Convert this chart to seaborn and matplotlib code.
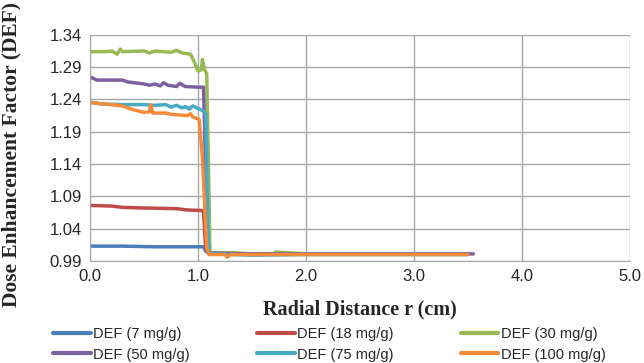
import pandas as pd
import matplotlib
matplotlib.use("Agg")
import matplotlib.pyplot as plt
import seaborn as sns

# --- data (r in cm, DEF) ---
r_7 = [0.0, 0.3, 0.6, 0.9, 1.05, 1.07, 1.10, 1.5, 2.0, 2.5, 3.0, 3.5]
def_7 = [1.013, 1.013, 1.012, 1.012, 1.012, 1.005, 1.002, 1.001, 1.001, 1.001, 1.001, 1.001]

r_18 = [0.0, 0.2, 0.3, 0.5, 0.8, 0.9, 1.05, 1.07, 1.10, 1.5, 2.0, 2.5, 3.0, 3.5]
def_18 = [1.076, 1.075, 1.073, 1.072, 1.071, 1.069, 1.068, 1.010, 1.002, 1.001, 1.001, 1.001, 1.001, 1.001]

r_30 = [0.0, 0.15, 0.2, 0.25, 0.28, 0.3, 0.5, 0.55, 0.6, 0.75, 0.8, 0.85, 0.93, 0.96, 1.0, 1.03, 1.04,
        1.06, 1.08, 1.10, 1.11, 1.3, 1.5, 1.7, 1.72, 2.0, 2.5, 3.0, 3.5]
def_30 = [1.314, 1.314, 1.315, 1.310, 1.318, 1.314, 1.315, 1.312, 1.315, 1.313, 1.316, 1.312, 1.310, 1.300,
          1.284, 1.286, 1.302, 1.286, 1.280, 1.100, 1.002, 1.003, 1.001, 1.001, 1.004, 1.001, 1.001, 1.001, 1.001]

r_50 = [0.0, 0.06, 0.3, 0.35, 0.5, 0.55, 0.6, 0.65, 0.68, 0.72, 0.8, 0.83, 0.88, 1.0, 1.05, 1.06,
        1.08, 1.10, 1.5, 2.0, 2.5, 3.0, 3.55]
def_50 = [1.275, 1.270, 1.270, 1.267, 1.264, 1.262, 1.264, 1.261, 1.266, 1.262, 1.260, 1.265, 1.260,
          1.259, 1.259, 1.200, 1.050, 1.002, 1.001, 1.001, 1.001, 1.001, 1.001]

r_75 = [0.0, 0.1, 0.3, 0.5, 0.6, 0.7, 0.75, 0.8, 0.85, 0.88, 0.92, 0.95, 1.0, 1.05, 1.07, 1.08,
        1.09, 1.10, 1.12, 1.5, 2.0, 2.5, 3.0, 3.5]
def_75 = [1.236, 1.233, 1.232, 1.232, 1.231, 1.232, 1.228, 1.231, 1.227, 1.229, 1.225, 1.230, 1.226,
          1.222, 1.218, 1.150, 1.050, 1.003, 1.001, 0.999, 1.000, 1.000, 1.000, 1.000]

r_100 = [0.0, 0.2, 0.3, 0.4, 0.5, 0.55, 0.56, 0.58, 0.7, 0.75, 0.9, 0.93, 0.95, 1.01, 1.04, 1.06,
         1.08, 1.10, 1.25, 1.27, 1.3, 1.5, 2.0, 2.5, 3.0, 3.5]
def_100 = [1.235, 1.232, 1.230, 1.224, 1.220, 1.221, 1.232, 1.219, 1.219, 1.217, 1.215, 1.218, 1.213,
           1.209, 1.150, 1.080, 1.010, 1.000, 1.000, 0.996, 1.000, 1.000, 1.000, 1.000, 1.000, 1.000]

labels = ["DEF (7 mg/g)", "DEF (18 mg/g)", "DEF (30 mg/g)",
          "DEF (50 mg/g)", "DEF (75 mg/g)", "DEF (100 mg/g)"]
colors = ["#4a7ebb", "#be4b48", "#98b954", "#7d60a0", "#46aac5", "#f38b3a"]
xs = [r_7, r_18, r_30, r_50, r_75, r_100]
ys = [def_7, def_18, def_30, def_50, def_75, def_100]

frames = []
for lab, x, y in zip(labels, xs, ys):
    frames.append(pd.DataFrame({"r": x, "DEF": y, "series": lab}))
df = pd.concat(frames, ignore_index=True)

sns.set_style("white")
plt.rcParams['font.family'] = ['Liberation Sans', 'DejaVu Sans']

fig = plt.figure(figsize=(6.44, 3.63), dpi=100)
ax = fig.add_axes([0.14, 0.281, 0.838, 0.623])

sns.lineplot(data=df, x="r", y="DEF", hue="series", palette=dict(zip(labels, colors)),
             estimator=None, sort=False, linewidth=2.5, ax=ax)

ax.set_xlim(0, 5)
ax.set_ylim(0.99, 1.34)
ax.set_xticks([0, 1, 2, 3, 4, 5])
ax.set_xticklabels(["0.0", "1.0", "2.0", "3.0", "4.0", "5.0"])
ax.set_yticks([0.99, 1.04, 1.09, 1.14, 1.19, 1.24, 1.29, 1.34])
ax.set_yticklabels(["0.99", "1.04", "1.09", "1.14", "1.19", "1.24", "1.29", "1.34"])
ax.tick_params(axis="both", labelsize=12, length=0, pad=6)
ax.grid(True, color="#a6a6a6", linewidth=1)
ax.set_axisbelow(True)
for s in ["top", "right"]:
    ax.spines[s].set_visible(False)
for s in ["left", "bottom"]:
    ax.spines[s].set_color("#a6a6a6")

ax.set_xlabel("Radial Distance r (cm)", fontsize=14.5, fontweight="bold",
              family="Liberation Serif", labelpad=11)
ax.set_ylabel("Dose Enhancement Factor (DEF)", fontsize=15.5, fontweight="bold",
              family="Liberation Serif", labelpad=8)
ax.yaxis.set_label_coords(-0.128, 0.47)

# legend filled row by row, like the reference
handles, labs = ax.get_legend_handles_labels()
ax.get_legend().remove()
order = [0, 3, 1, 4, 2, 5]
for h in handles:
    h.set_linewidth(3)
fig.legend([handles[i] for i in order], [labs[i] for i in order],
           loc="upper left", bbox_to_anchor=(53 / 644, 1 - 327 / 363), ncol=3, frameon=False,
           fontsize=10.5, handlelength=2.6, handletextpad=0.15, columnspacing=4.6,
           labelspacing=0.45, borderpad=0, borderaxespad=0)

fig.savefig("out.png", dpi=100)
